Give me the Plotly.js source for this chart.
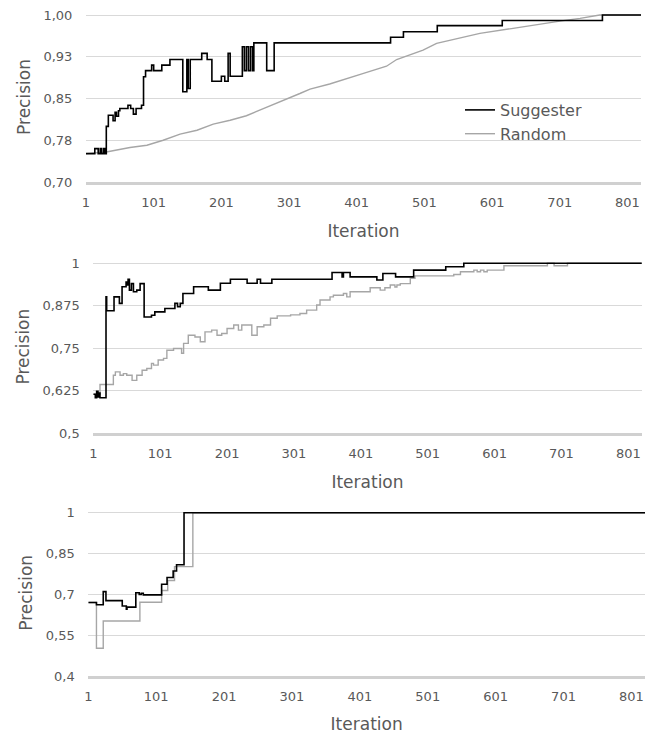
<!DOCTYPE html>
<html>
<head>
<meta charset="utf-8">
<script src="https://cdn.plot.ly/plotly-3.0.1.min.js"></script>
<style>html,body{margin:0;padding:0;background:#fff;}#chart{width:652px;height:734px;}</style>
</head>
<body>
<div id="chart"></div>
<script>
// ---------- Data ----------
const seriesNames = ["Suggester", "Random"];
const xTickVals = [1, 101, 201, 301, 401, 501, 601, 701, 801];
const xTickText = ["1", "101", "201", "301", "401", "501", "601", "701", "801"];

// Panel 1
const p1YTickVals = [0.7, 0.775, 0.85, 0.925, 1.0];
const p1YTickText = ["0,70", "0,78", "0,85", "0,93", "1,00"];
const p1SugIter = [1, 14, 19, 22, 24, 27, 29, 31, 34, 41, 44, 46, 49, 51, 63, 67, 71, 75, 83, 86, 89, 98, 101, 113, 125, 144, 150, 152, 155, 172, 180, 187, 201, 206, 211, 214, 232, 235, 238, 241, 244, 247, 249, 268, 279, 451, 470, 520, 616, 764, 821];
const p1SugVal  = [0.751, 0.760, 0.751, 0.760, 0.751, 0.760, 0.751, 0.800, 0.820, 0.810, 0.825, 0.818, 0.828, 0.832, 0.838, 0.832, 0.822, 0.832, 0.838, 0.889, 0.900, 0.910, 0.900, 0.910, 0.920, 0.862, 0.920, 0.868, 0.920, 0.931, 0.920, 0.881, 0.890, 0.881, 0.931, 0.890, 0.943, 0.900, 0.943, 0.900, 0.943, 0.900, 0.950, 0.900, 0.950, 0.960, 0.970, 0.981, 0.990, 1.000, 1.000];
const p1RndIter = [1, 31, 66, 91, 115, 140, 165, 189, 214, 238, 263, 288, 317, 332, 361, 411, 445, 460, 475, 499, 519, 544, 583, 632, 682, 706, 731, 760, 821];
const p1RndVal  = [0.751, 0.754, 0.762, 0.766, 0.775, 0.786, 0.793, 0.804, 0.811, 0.819, 0.832, 0.844, 0.859, 0.867, 0.876, 0.895, 0.908, 0.920, 0.926, 0.937, 0.949, 0.956, 0.967, 0.976, 0.986, 0.990, 0.994, 1.000, 1.000];

// Panel 2
const p2YTickVals = [0.5, 0.625, 0.75, 0.875, 1.0];
const p2YTickText = ["0,5", "0,625", "0,75", "0,875", "1"];
const p2SugIter = [1, 4, 6, 8, 10, 11, 20, 21, 32, 40, 44, 50, 51, 53, 55, 58, 61, 66, 71, 77, 88, 93, 108, 123, 127, 131, 135, 151, 173, 191, 206, 231, 246, 251, 268, 358, 373, 375, 385, 425, 434, 453, 480, 528, 555, 822];
const p2SugVal  = [0.614, 0.604, 0.623, 0.606, 0.618, 0.604, 0.901, 0.860, 0.901, 0.882, 0.931, 0.945, 0.936, 0.953, 0.921, 0.940, 0.916, 0.921, 0.940, 0.842, 0.847, 0.857, 0.867, 0.882, 0.872, 0.882, 0.911, 0.931, 0.921, 0.941, 0.953, 0.941, 0.953, 0.941, 0.953, 0.973, 0.960, 0.973, 0.960, 0.951, 0.970, 0.960, 0.980, 0.990, 1.000, 1.000];
const p2RndIter = [1, 11, 31, 34, 41, 46, 51, 59, 66, 74, 81, 88, 91, 98, 106, 111, 121, 133, 136, 143, 153, 161, 168, 178, 186, 193, 201, 211, 218, 223, 238, 246, 256, 266, 276, 296, 310, 320, 335, 340, 355, 360, 375, 380, 385, 415, 430, 437, 445, 452, 455, 460, 475, 482, 540, 550, 570, 575, 580, 585, 590, 615, 680, 690, 710, 822];
const p2RndVal  = [0.614, 0.643, 0.670, 0.680, 0.670, 0.675, 0.670, 0.655, 0.670, 0.685, 0.690, 0.705, 0.700, 0.715, 0.720, 0.744, 0.749, 0.735, 0.764, 0.788, 0.783, 0.769, 0.798, 0.803, 0.788, 0.793, 0.808, 0.818, 0.803, 0.818, 0.788, 0.813, 0.818, 0.838, 0.845, 0.848, 0.852, 0.862, 0.877, 0.892, 0.901, 0.906, 0.911, 0.901, 0.916, 0.928, 0.921, 0.928, 0.936, 0.930, 0.936, 0.940, 0.956, 0.963, 0.967, 0.975, 0.980, 0.975, 0.980, 0.975, 0.980, 0.993, 1.000, 0.993, 1.000, 1.000];

// Panel 3
const p3YTickVals = [0.4, 0.55, 0.7, 0.85, 1.0];
const p3YTickText = ["0,4", "0,55", "0,7", "0,85", "1"];
const p3SugIter = [1, 13, 23, 27, 51, 57, 58, 71, 76, 79, 82, 109, 117, 126, 131, 142, 821];
const p3SugVal  = [0.670, 0.662, 0.710, 0.677, 0.657, 0.645, 0.653, 0.706, 0.700, 0.704, 0.698, 0.737, 0.762, 0.786, 0.809, 1.000, 1.000];
const p3RndIter = [1, 13, 23, 77, 109, 118, 128, 155, 821];
const p3RndVal  = [0.670, 0.502, 0.602, 0.671, 0.714, 0.751, 0.802, 1.000, 1.000];

// ---------- Styling ----------
const FONT = "DejaVu Sans, sans-serif";
const TXT = "#595959";
const GRID = "#d9d9d9";
const SUG_COLOR = "#000000";
const RND_COLOR = "#a6a6a6";

function rnd(x, y, xa, ya, show) {
  return {x: x, y: y, xaxis: xa, yaxis: ya, type: "scatter", mode: "lines",
    name: seriesNames[1], legendrank: 2, showlegend: show, hoverinfo: "skip",
    line: {color: RND_COLOR, width: 1.4, shape: "hv"}};
}
function sug(x, y, xa, ya, show) {
  return {x: x, y: y, xaxis: xa, yaxis: ya, type: "scatter", mode: "lines",
    name: seriesNames[0], legendrank: 1, showlegend: show, hoverinfo: "skip",
    line: {color: SUG_COLOR, width: 1.6, shape: "hv"}};
}

const r1 = rnd(p1RndIter, p1RndVal, "x", "y", true); r1.line.shape = "linear";
const data = [
  r1, sug(p1SugIter, p1SugVal, "x", "y", true),
  rnd(p2RndIter, p2RndVal, "x2", "y2", false), sug(p2SugIter, p2SugVal, "x2", "y2", false),
  rnd(p3RndIter, p3RndVal, "x3", "y3", false), sug(p3SugIter, p3SugVal, "x3", "y3", false)
];

function xAxis(domain, anchor) {
  return {domain: domain, anchor: anchor, range: [1, 821], tickvals: xTickVals, ticktext: xTickText,
    showgrid: false, zeroline: false, showline: true, linecolor: "#d0d0d0", linewidth: 2.5,
    ticks: "outside", ticklen: 7, tickcolor: "rgba(0,0,0,0)",
    tickfont: {family: FONT, size: 13, color: TXT},
    title: {text: "Iteration", font: {family: FONT, size: 17, color: TXT}, standoff: 16}};
}
// yaxis: pixel positions of the bottom gridline and of the top (value 1) gridline;
// range and domain get 3 px extra headroom so a line at 1 is not clipped.
const W = 652, H = 734, PAD = 3;
function yAxis(pxBottom, pxTop, anchor, lo, hi, tv, tt) {
  const perPx = (hi - lo) / (pxBottom - pxTop);
  return {domain: [1 - pxBottom / H, 1 - (pxTop - PAD) / H], anchor: anchor,
    range: [lo, hi + PAD * perPx], tickvals: tv, ticktext: tt,
    showgrid: true, gridcolor: GRID, gridwidth: 1, zeroline: false, showline: false,
    ticks: "outside", ticklen: 10, tickcolor: "rgba(0,0,0,0)",
    tickfont: {family: FONT, size: 13, color: TXT},
    title: {text: "Precision", font: {family: FONT, size: 17, color: TXT}, standoff: 8}};
}

const layout = {
  width: W, height: H,
  margin: {l: 0, r: 0, t: 0, b: 0},
  paper_bgcolor: "#ffffff", plot_bgcolor: "#ffffff",
  font: {family: FONT, color: TXT},
  showlegend: true,
  legend: {x: 460 / W, y: 1 - 93 / H, xanchor: "left", yanchor: "top",
    font: {family: FONT, size: 16, color: TXT}, bgcolor: "rgba(0,0,0,0)", tracegroupgap: 0},
  xaxis: xAxis([86 / W, 641 / W], "y"),
  yaxis: yAxis(182, 15, "x", 0.7, 1.0, p1YTickVals, p1YTickText),
  xaxis2: xAxis([93.3 / W, 641.7 / W], "y2"),
  yaxis2: yAxis(433, 263.3, "x2", 0.5, 1.0, p2YTickVals, p2YTickText),
  xaxis3: xAxis([88.3 / W, 645 / W], "y3"),
  yaxis3: yAxis(676, 512.7, "x3", 0.4, 1.0, p3YTickVals, p3YTickText)
};

Plotly.newPlot("chart", data, layout, {displayModeBar: false, staticPlot: true});
</script>
</body>
</html>
